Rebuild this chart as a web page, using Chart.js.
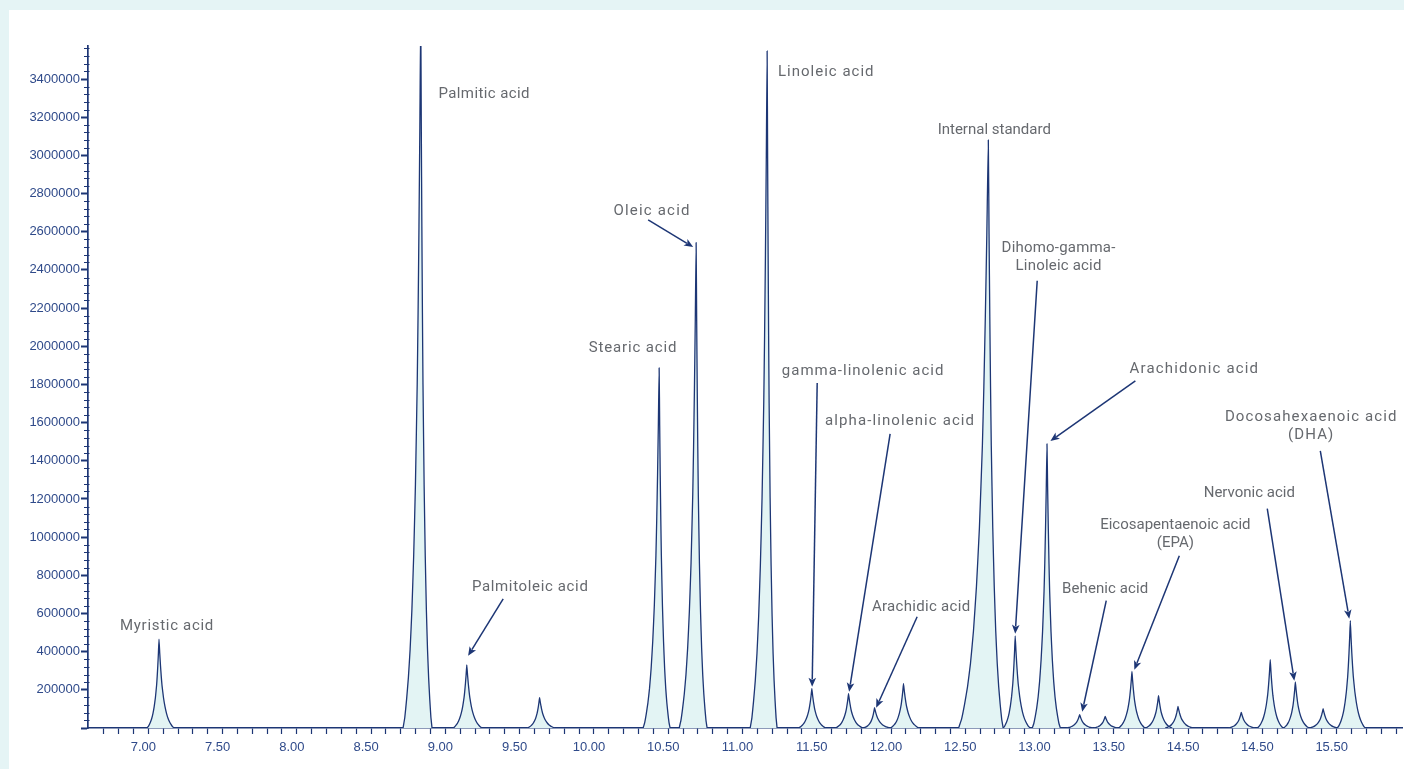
<!DOCTYPE html>
<html>
<head>
<meta charset="utf-8">
<script src="https://cdn.jsdelivr.net/npm/chart.js@4/dist/chart.umd.min.js"></script>
<style>
  html, body { margin: 0; padding: 0; }
  body { width: 1404px; height: 769px; background: #e5f4f5; position: relative; overflow: hidden; }
  .card { position: absolute; left: 9px; top: 10px; right: 0; bottom: 0; background: #fff; }
  canvas { position: absolute; left: 0; top: 0; }
</style>
</head>
<body>
<div class="card"></div>
<canvas id="chart" width="1404" height="769"></canvas>
<script>
// retention time (min), apex height and flank widths of each peak
const PEAK_TIMES = [7.072, 8.834, 9.144, 9.634, 10.439, 10.688, 11.166, 11.467, 11.714, 11.889, 12.084, 12.655,
  12.836, 13.050, 13.270, 13.442, 13.622, 13.801, 13.932, 14.358, 14.553, 14.722, 14.909, 15.092];
const PEAK_HEIGHTS = [466000, 3750000, 331000, 159000, 1887000, 2543000, 3547000, 206000, 180000, 106000, 232000, 3081000,
  483000, 1489000, 70000, 61000, 296000, 169000, 113000, 82000, 358000, 242000, 101000, 562000];
const PEAK_WIDTH_LEFT = [0.081, 0.119, 0.092, 0.084, 0.108, 0.114, 0.114, 0.092, 0.090, 0.076, 0.090, 0.200,
  0.081, 0.099, 0.090, 0.081, 0.092, 0.090, 0.086, 0.088, 0.088, 0.081, 0.092, 0.088];
const PEAK_WIDTH_RIGHT = [0.101, 0.076, 0.103, 0.104, 0.074, 0.074, 0.067, 0.096, 0.099, 0.106, 0.106, 0.100,
  0.101, 0.090, 0.092, 0.088, 0.090, 0.092, 0.103, 0.094, 0.088, 0.094, 0.096, 0.101];

// peak outline: distance from apex (share of flank width) -> share of apex height
const PROFILE_POS = [0, 0.05, 0.1, 0.15, 0.2, 0.3, 0.4, 0.5, 0.6, 0.7, 0.8, 0.9, 1];
const PROFILE_LEVEL = [1, 0.84, 0.7, 0.58, 0.48, 0.34, 0.24, 0.165, 0.11, 0.07, 0.04, 0.015, 0];

const Y_TICKS = [0, 200000, 400000, 600000, 800000, 1000000, 1200000, 1400000, 1600000, 1800000, 2000000,
  2200000, 2400000, 2600000, 2800000, 3000000, 3200000, 3400000];
const X_TICKS = [7, 7.5, 8, 8.5, 9, 9.5, 10, 10.5, 11, 11.5, 12, 12.5, 13, 13.5, 14, 14.5, 15];
const X_LABELS = ['7.00', '7.50', '8.00', '8.50', '9.00', '9.50', '10.00', '10.50', '11.00', '11.50', '12.00',
  '12.50', '13.00', '13.50', '14.50', '14.50', '15.50'];

const NAVY = '#1d3675';
const TICK_TEXT = '#2f4a8a';
const NOTE_TEXT = '#66696e';
const FILL = '#e3f4f4';

// labels and leader arrows, in chart units; sp = letter spacing
const NOTES = [
  { text: ['Myristic acid'], at: [7.126, 541000], sp: 0.7 },
  { text: ['Palmitic acid'], at: [9.261, 3327000], sp: 0.4 },
  { text: ['Palmitoleic acid'], at: [9.571, 745000], sp: 0.65, from: [9.389, 677000], to: [9.153, 378000] },
  { text: ['Oleic acid'], at: [10.391, 2714000], sp: 1.2, from: [10.365, 2662000], to: [10.668, 2520000] },
  { text: ['Stearic acid'], at: [10.263, 1997000], sp: 0.85 },
  { text: ['Linoleic acid'], at: [11.564, 3442000], sp: 1.0 },
  { text: ['Internal standard'], at: [12.695, 3138000], sp: 0 },
  { text: ['Dihomo-gamma-', 'Linoleic acid'], at: [13.128, 2473000], sp: 0.2, from: [12.984, 2343000], to: [12.836, 494000] },
  { text: ['gamma-linolenic acid'], at: [11.812, 1876000], sp: 1.0, from: [11.503, 1808000], to: [11.469, 216000] },
  { text: ['alpha-linolenic acid'], at: [12.061, 1614000], sp: 1.1, from: [11.994, 1541000], to: [11.718, 190000] },
  { text: ['Arachidic acid'], at: [12.203, 640000], sp: 0.3, from: [12.176, 583000], to: [11.900, 106000] },
  { text: ['Arachidonic acid'], at: [14.042, 1887000], sp: 1.15, from: [13.645, 1819000], to: [13.073, 1504000] },
  { text: ['Behenic acid'], at: [13.442, 735000], sp: 0.1, from: [13.449, 667000], to: [13.287, 85000] },
  { text: ['Eicosapentaenoic acid', '(EPA)'], at: [13.914, 1023000], sp: 0, from: [13.941, 902000], to: [13.638, 305000] },
  { text: ['Nervonic acid'], at: [14.412, 1238000], sp: 0, from: [14.533, 1149000], to: [14.715, 248000] },
  { text: ['Docosahexaenoic acid', '(DHA)'], at: [14.829, 1589000], sp: 1.1, from: [14.890, 1452000], to: [15.085, 572000] },
];

function peakPoints(i) {
  const t = PEAK_TIMES[i], h = PEAK_HEIGHTS[i];
  const pts = [];
  for (let k = PROFILE_POS.length - 1; k > 0; k--) {
    pts.push({ x: t - PROFILE_POS[k] * PEAK_WIDTH_LEFT[i], y: h * PROFILE_LEVEL[k] });
  }
  pts.push({ x: t, y: h });
  for (let k = 1; k < PROFILE_POS.length; k++) {
    pts.push({ x: t + PROFILE_POS[k] * PEAK_WIDTH_RIGHT[i], y: h * PROFILE_LEVEL[k] });
  }
  return pts;
}

// a small tension keeps Chart.js off its pixel-collapsing fast path
const datasets = PEAK_TIMES.map((t, i) => ({
  data: peakPoints(i),
  borderColor: NAVY,
  borderWidth: 1.3,
  borderJoinStyle: 'round',
  backgroundColor: FILL,
  fill: 'origin',
  pointRadius: 0,
  tension: 0.12,
}));

const minorTicks = {
  id: 'minorTicks',
  afterDraw(chart) {
    const { ctx, scales: { y } } = chart;
    const x0 = y.right;
    ctx.save();
    ctx.strokeStyle = NAVY;
    ctx.lineWidth = 1;
    for (let v = 40000; v <= y.max; v += 40000) {
      if (v % 200000 === 0 && v <= 3400000) continue;
      const py = Math.round(y.getPixelForValue(v)) + 0.5;
      ctx.beginPath();
      ctx.moveTo(x0 - 4, py);
      ctx.lineTo(x0 + 1.5, py);
      ctx.stroke();
    }
    ctx.restore();
  },
};

const notes = {
  id: 'notes',
  afterDraw(chart) {
    const { ctx, scales: { x, y } } = chart;
    ctx.save();
    ctx.font = '15px Roboto';
    ctx.textAlign = 'center';
    ctx.textBaseline = 'middle';
    NOTES.forEach(n => {
      const cx = x.getPixelForValue(n.at[0]);
      const cy = y.getPixelForValue(n.at[1]) + 1.5;
      const lh = 18;
      ctx.letterSpacing = n.sp + 'px';
      ctx.fillStyle = NOTE_TEXT;
      n.text.forEach((line, j) => {
        ctx.fillText(line, cx, cy + (j - (n.text.length - 1) / 2) * lh);
      });
      if (n.from) {
        const x1 = x.getPixelForValue(n.from[0]), y1 = y.getPixelForValue(n.from[1]);
        const x2 = x.getPixelForValue(n.to[0]), y2 = y.getPixelForValue(n.to[1]);
        const a = Math.atan2(y2 - y1, x2 - x1);
        const len = 9, half = 3.8;
        ctx.strokeStyle = NAVY;
        ctx.fillStyle = NAVY;
        ctx.lineWidth = 1.5;
        ctx.beginPath();
        ctx.moveTo(x1, y1);
        ctx.lineTo(x2 - Math.cos(a) * len * 0.8, y2 - Math.sin(a) * len * 0.8);
        ctx.stroke();
        ctx.beginPath();
        ctx.moveTo(x2, y2);
        ctx.lineTo(x2 - Math.cos(a) * len - Math.sin(a) * half, y2 - Math.sin(a) * len + Math.cos(a) * half);
        ctx.lineTo(x2 - Math.cos(a) * len * 0.75, y2 - Math.sin(a) * len * 0.75);
        ctx.lineTo(x2 - Math.cos(a) * len + Math.sin(a) * half, y2 - Math.sin(a) * len - Math.cos(a) * half);
        ctx.closePath();
        ctx.fill();
      }
    });
    ctx.restore();
  },
};

new Chart(document.getElementById('chart'), {
  type: 'line',
  data: { datasets },
  options: {
    responsive: false,
    animation: false,
    events: [],
    layout: { padding: { top: 46, right: 2, left: 0, bottom: 0 } },
    plugins: {
      legend: { display: false },
      tooltip: { enabled: false },
      filler: { drawTime: 'beforeDatasetsDraw' },
    },
    scales: {
      x: {
        type: 'linear',
        min: 6.594,
        max: 15.44,
        afterFit(scale) { scale.height = 41; },
        afterBuildTicks(scale) {
          const ticks = [];
          for (let k = 67; k <= 154; k++) ticks.push({ value: k / 10 });
          scale.ticks = ticks;
        },
        border: { color: NAVY, width: 1.5 },
        grid: { drawOnChartArea: false, tickLength: 6, tickColor: NAVY, tickWidth: 1.2 },
        ticks: {
          autoSkip: false,
          maxRotation: 0,
          padding: 6,
          labelOffset: -5,
          color: TICK_TEXT,
          font: { family: 'Liberation Sans, Arial', size: 13 },
          callback(value) {
            const i = X_TICKS.findIndex(t => Math.abs(t - value) < 1e-6);
            return i >= 0 ? X_LABELS[i] : '';
          },
        },
      },
      y: {
        min: 0,
        max: 3573000,
        afterFit(scale) { scale.width = 88; },
        afterBuildTicks(scale) {
          scale.ticks = Y_TICKS.map(v => ({ value: v }));
        },
        border: { color: NAVY, width: 1.7 },
        grid: { drawOnChartArea: false, tickLength: 7, tickColor: NAVY, tickWidth: 2 },
        ticks: {
          autoSkip: false,
          padding: 1,
          color: TICK_TEXT,
          font: { family: 'Liberation Sans, Arial', size: 13 },
          callback(value) { return value === 0 ? '' : String(value); },
        },
      },
    },
  },
  plugins: [minorTicks, notes],
});
</script>
</body>
</html>
